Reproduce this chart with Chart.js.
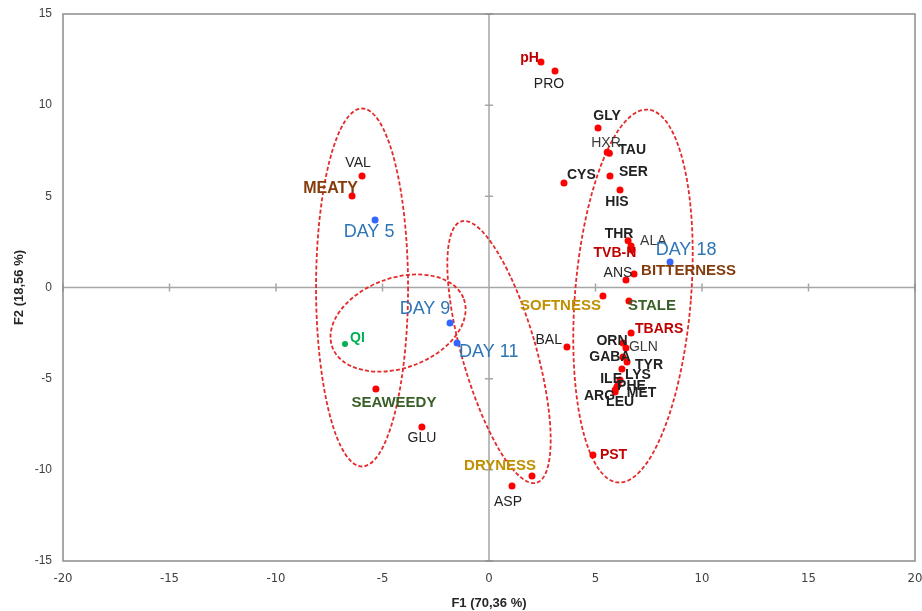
<!DOCTYPE html>
<html>
<head>
<meta charset="utf-8">
<script src="https://cdn.jsdelivr.net/npm/chart.js@4.4.1/dist/chart.umd.min.js"></script>
<style>
  body { margin: 0; background: #fff; }
</style>
</head>
<body>
<canvas id="pcaChart" width="922" height="611"></canvas>
<script>
// variables (red points)
var varNames = ["pH", "PRO", "GLY", "HXR", "TAU", "SER", "CYS", "HIS", "VAL", "MEATY",
  "THR", "ALA", "TVB-N", "BITTERNESS", "ANS", "SOFTNESS", "STALE", "TBARS", "BAL",
  "ORN", "GLN", "GABA", "TYR", "LYS", "ILE", "PHE", "MET", "ARG", "LEU",
  "PST", "DRYNESS", "ASP", "GLU", "SEAWEEDY"];
var varF1 = [2.44, 3.10, 5.12, 5.55, 5.65, 5.68, 3.52, 6.15, -5.96, -6.43,
  6.53, 6.67, 6.71, 6.81, 6.43, 5.35, 6.57, 6.67, 3.66,
  6.29, 6.43, 6.29, 6.48, 6.24, 6.15, 6.06, 6.00, 5.92, 5.92,
  4.88, 2.02, 1.08, -3.15, -5.31];
var varF2 = [12.37, 11.87, 8.75, 7.42, 7.36, 6.12, 5.73, 5.35, 6.12, 5.02,
  2.56, 2.28, 2.06, 0.74, 0.41, -0.47, -0.74, -2.50, -3.26,
  -3.04, -3.32, -3.81, -4.09, -4.47, -5.07, -5.35, -5.46, -5.62, -5.73,
  -9.19, -10.34, -10.89, -7.65, -5.57];

// observations (blue points)
var dayNames = ["DAY 5", "DAY 9", "DAY 11", "DAY 18"];
var dayF1 = [-5.35, -1.83, -1.50, 8.50];
var dayF2 = [3.70, -1.95, -3.04, 1.40];

// supplementary (green point)
var qiNames = ["QI"];
var qiF1 = [-6.76];
var qiF2 = [-3.10];

var xTicks = [-20, -15, -10, -5, 0, 5, 10, 15, 20];
var yTicks = [-15, -10, -5, 0, 5, 10, 15];

// label styles: colour, bold, size, align, pixel offset
var BLACK = "#222222", GREY = "#3a3a3a", DRED = "#C00000", BROWN = "#843C0C",
    GOLD = "#BF9000", DGREEN = "#3A5F27", BLUE = "#2E75B6", GREEN = "#00B050";
var labelStyle = {
  "pH": [DRED, true, 14, "right", -2, -4],
  "PRO": [BLACK, false, 14, "center", -6, 13],
  "GLY": [BLACK, true, 14, "center", 9, -12],
  "HXR": [GREY, false, 14, "left", -16, -9],
  "TAU": [BLACK, true, 14, "left", 9, -3],
  "SER": [BLACK, true, 14, "left", 9, -4],
  "CYS": [BLACK, true, 14, "left", 3, -8],
  "HIS": [BLACK, true, 14, "center", -3, 12],
  "VAL": [BLACK, false, 14, "center", -4, -13],
  "MEATY": [BROWN, true, 16, "right", 6, -7],
  "THR": [BLACK, true, 14, "center", -9, -7],
  "ALA": [GREY, false, 14, "left", 9, -5],
  "TVB-N": [DRED, true, 14, "center", -17, 3],
  "BITTERNESS": [BROWN, true, 15, "left", 7, -3],
  "ANS": [BLACK, false, 14, "center", -8, -7],
  "SOFTNESS": [GOLD, true, 15, "right", -2, 10],
  "STALE": [DGREEN, true, 15, "left", -1, 5],
  "TBARS": [DRED, true, 14, "left", 4, -4],
  "BAL": [BLACK, false, 14, "right", -5, -7],
  "ORN": [BLACK, true, 14, "center", -11, -2],
  "GLN": [GREY, false, 14, "left", 3, -1],
  "GABA": [BLACK, true, 14, "center", -13, 0],
  "TYR": [BLACK, true, 14, "left", 8, 3],
  "LYS": [BLACK, true, 14, "left", 3, 6],
  "ILE": [BLACK, true, 14, "right", 2, -1],
  "PHE": [BLACK, true, 14, "left", -1, 1],
  "MET": [BLACK, true, 14, "left", 10, 6],
  "ARG": [BLACK, true, 14, "right", 0, 6],
  "LEU": [BLACK, true, 14, "center", 5, 10],
  "PST": [DRED, true, 14, "left", 7, 0],
  "DRYNESS": [GOLD, true, 15, "center", -32, -10],
  "ASP": [BLACK, false, 14, "center", -4, 16],
  "GLU": [BLACK, false, 14, "center", 0, 11],
  "SEAWEEDY": [DGREEN, true, 15, "center", 18, 14],
  "QI": [GREEN, true, 14, "left", 5, -6],
  "DAY 5": [BLUE, false, 18, "center", -6, 12],
  "DAY 9": [BLUE, false, 18, "center", -25, -14],
  "DAY 11": [BLUE, false, 18, "left", 2, 9],
  "DAY 18": [BLUE, false, 18, "center", 16, -12]
};

// confidence ellipses: centre (F1, F2), pixel half-axes, rotation in degrees
var ellipses = [
  { cx: -5.96, cy: 0.0, rx: 46, ry: 179, rot: 0 },
  { cx: -4.27, cy: -1.95, rx: 70, ry: 45, rot: -20 },
  { cx: 0.47, cy: -3.54, rx: 37, ry: 136, rot: -16 },
  { cx: 6.76, cy: -0.47, rx: 58, ry: 187, rot: 4.6 }
];

function toPoints(xs, ys, names) {
  return xs.map(function(x, i) { return { x: x, y: ys[i], name: names[i] }; });
}

var axisFramePlugin = {
  id: "axisFrame",
  beforeDatasetsDraw: function(chart) {
    var ctx = chart.ctx, a = chart.chartArea;
    var sx = chart.scales.x, sy = chart.scales.y;
    var x0 = sx.getPixelForValue(0), y0 = sy.getPixelForValue(0);
    ctx.save();
    ctx.strokeStyle = "#A6A6A6";
    ctx.lineWidth = 1.5;
    ctx.beginPath();
    ctx.moveTo(a.left, y0); ctx.lineTo(a.right, y0);
    ctx.moveTo(x0, a.top); ctx.lineTo(x0, a.bottom);
    xTicks.forEach(function(t) {
      var px = sx.getPixelForValue(t);
      ctx.moveTo(px, y0 - 4); ctx.lineTo(px, y0 + 4);
    });
    yTicks.forEach(function(t) {
      var py = sy.getPixelForValue(t);
      ctx.moveTo(x0 - 4, py); ctx.lineTo(x0 + 4, py);
    });
    ctx.stroke();
    ctx.strokeStyle = "#8C8C8C";
    ctx.strokeRect(a.left, a.top, a.right - a.left, a.bottom - a.top);

    // ellipses
    ctx.strokeStyle = "#E42A2A";
    ctx.lineWidth = 1.8;
    ctx.setLineDash([4, 2.2]);
    ellipses.forEach(function(e) {
      ctx.beginPath();
      ctx.ellipse(sx.getPixelForValue(e.cx), sy.getPixelForValue(e.cy),
        e.rx, e.ry, e.rot * Math.PI / 180, 0, Math.PI * 2);
      ctx.stroke();
    });
    ctx.restore();
  }
};

var pointLabelPlugin = {
  id: "pointLabels",
  afterDatasetsDraw: function(chart) {
    var ctx = chart.ctx;
    ctx.save();
    ctx.textBaseline = "middle";
    chart.data.datasets.forEach(function(ds, di) {
      var meta = chart.getDatasetMeta(di);
      meta.data.forEach(function(el, i) {
        var name = ds.data[i].name;
        var s = labelStyle[name];
        if (!s) return;
        ctx.fillStyle = s[0];
        ctx.font = (s[1] ? "bold " : "") + s[2] + "px 'Liberation Sans', Arial, sans-serif";
        ctx.textAlign = s[3];
        ctx.fillText(name, el.x + s[4], el.y + s[5]);
      });
    });
    ctx.restore();
  }
};

var tickFont = { family: "'Liberation Sans Narrow', 'DejaVu Sans Condensed', sans-serif", size: 13 };

new Chart(document.getElementById("pcaChart").getContext("2d"), {
  type: "scatter",
  data: {
    datasets: [
      { data: toPoints(varF1, varF2, varNames), backgroundColor: "#FF0000", borderWidth: 0, pointRadius: 3.5 },
      { data: toPoints(dayF1, dayF2, dayNames), backgroundColor: "#3366FF", borderWidth: 0, pointRadius: 3.5 },
      { data: toPoints(qiF1, qiF2, qiNames), backgroundColor: "#00B050", borderWidth: 0, pointRadius: 3 }
    ]
  },
  options: {
    responsive: false,
    animation: false,
    layout: { padding: { top: 14, right: 7 } },
    plugins: { legend: { display: false }, tooltip: { enabled: false } },
    scales: {
      x: {
        min: -20, max: 20,
        afterFit: function(s) { s.height = 50; s.paddingLeft = 0; s.paddingRight = 0; },
        afterBuildTicks: function(s) { s.ticks = xTicks.map(function(v) { return { value: v }; }); },
        grid: { display: false, drawTicks: false },
        border: { display: false },
        ticks: { color: "#404040", font: tickFont, padding: 10 },
        title: { display: true, text: "F1 (70,36 %)", color: "#262626",
          font: { family: "'Liberation Sans', Arial, sans-serif", size: 13, weight: "bold" }, padding: { top: 0, bottom: 0 } }
      },
      y: {
        min: -15, max: 15,
        afterFit: function(s) { s.width = 63; s.paddingTop = 0; s.paddingBottom = 0; },
        afterBuildTicks: function(s) { s.ticks = yTicks.map(function(v) { return { value: v }; }); },
        grid: { display: false, drawTicks: false },
        border: { display: false },
        ticks: { color: "#404040", font: { family: "'Liberation Sans', Arial, sans-serif", size: 12 }, padding: 11 },
        title: { display: true, text: "F2 (18,56 %)", color: "#262626",
          font: { family: "'Liberation Sans', Arial, sans-serif", size: 13, weight: "bold" }, padding: { top: 12, bottom: 0 } }
      }
    }
  },
  plugins: [axisFramePlugin, pointLabelPlugin]
});
</script>
</body>
</html>
